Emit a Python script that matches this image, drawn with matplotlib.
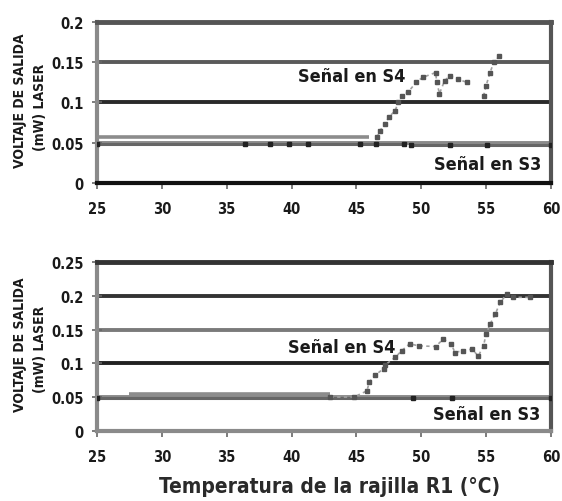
import numpy as np
import matplotlib
matplotlib.use("Agg")
import matplotlib.pyplot as plt
from matplotlib import font_manager
from matplotlib.ticker import FuncFormatter

# ---------------- data ----------------
x_ticks = [25, 30, 35, 40, 45, 50, 55, 60]
y_ticks_top = [0, 0.05, 0.1, 0.15, 0.2]
y_ticks_bot = [0, 0.05, 0.1, 0.15, 0.2, 0.25]

# top panel
top_s4_base_x = [25.0, 46.0]
top_s4_base_y = [0.057, 0.057]
top_s4_rise_x = [46.6, 46.8, 47.2, 47.5, 48.0, 48.2, 48.5, 49.0, 49.6, 50.1, 51.1,
                 51.2, 51.4, 51.8, 52.2, 52.8, 53.5, np.nan,
                 54.8, 55.0, 55.3, 55.6, 56.0]
top_s4_rise_y = [0.057, 0.065, 0.073, 0.082, 0.090, 0.100, 0.108, 0.113, 0.125, 0.131, 0.137,
                 0.125, 0.111, 0.127, 0.133, 0.129, 0.125, np.nan,
                 0.108, 0.121, 0.137, 0.150, 0.157]
top_s3_x = [25.0, 36.4, 38.3, 39.8, 41.3, 45.3, 46.5, 48.7, np.nan, 49.2, 52.2, 55.1, 60.0]
top_s3_y = [0.049, 0.049, 0.049, 0.049, 0.049, 0.049, 0.049, 0.049, np.nan, 0.048, 0.048, 0.048, 0.048]

# bottom panel
bot_s4_base_x = [27.5, 43.0]
bot_s4_base_y = [0.054, 0.054]
bot_s4_rise_x = [43.0, 44.8, 45.8, 46.0, 46.4, 47.1, 47.2, 48.0, 48.5, 49.1, 49.8, 51.1,
                 51.7, 52.3, 52.6, 53.2, 53.9, 54.4, 54.8, 55.0, 55.3, 55.7, 56.1,
                 56.6, 57.1, 58.4]
bot_s4_rise_y = [0.050, 0.050, 0.059, 0.072, 0.082, 0.092, 0.0975, 0.109, 0.119, 0.129, 0.126, 0.125,
                 0.136, 0.129, 0.116, 0.119, 0.121, 0.111, 0.126, 0.144, 0.158, 0.173, 0.191,
                 0.203, 0.198, 0.198]
bot_s3_x = [25.0, 49.4, 52.4, 60.0]
bot_s3_y = [0.049, 0.049, 0.049, 0.049]

label_s4 = "Señal en S4"
label_s3 = "Señal en S3"
ylabel_1 = "VOLTAJE DE SALIDA"
ylabel_2 = "(mW) LASER"
xlabel = "Temperatura de la rajilla R1 (°C)"

# ---------------- fonts ----------------
def has_font(name):
    try:
        font_manager.findfont(font_manager.FontProperties(family=name), fallback_to_default=False)
        return True
    except Exception:
        return False

if has_font("Liberation Sans Narrow"):
    FAM = "Liberation Sans Narrow"
    STRETCH = "normal"
else:
    FAM = "DejaVu Sans"
    STRETCH = "condensed"

TXT = "#1a1a1a"

fig = plt.figure(figsize=(5.62, 5.02), dpi=100)
fig.patch.set_facecolor("white")

ax_top = fig.add_axes([0.1726, 0.6329, 0.8078, 0.3219])
ax_bot = fig.add_axes([0.1726, 0.1400, 0.8078, 0.3355])

def style_axes(ax, yticks, grid_colors, spine_cols):
    ax.set_xlim(25, 60)
    ax.set_ylim(yticks[0], yticks[-1])
    ax.set_xticks(x_ticks)
    ax.set_yticks(yticks)
    ax.yaxis.set_major_formatter(FuncFormatter(lambda v, p: "%g" % round(v, 3)))
    for v, c in zip(yticks[1:-1], grid_colors):
        ax.axhline(v, color=c, lw=2.8, zorder=1)
    for side, (c, w) in spine_cols.items():
        ax.spines[side].set_color(c)
        ax.spines[side].set_linewidth(w)
    ax.tick_params(axis="x", direction="out", length=4, width=1.2, color="#666", pad=9)
    ax.tick_params(axis="y", direction="inout", length=7, width=1.2, color="#666", pad=6)
    for lab in ax.get_xticklabels() + ax.get_yticklabels():
        lab.set_fontfamily(FAM)
        lab.set_fontstretch(STRETCH)
        lab.set_fontweight("bold")
        lab.set_fontsize(10.5)
        lab.set_color(TXT)

style_axes(ax_top, y_ticks_top, ["#8a8a8a", "#2a2a2a", "#5a5a5a"],
           {"top": ("#555555", 3.5), "bottom": ("#111111", 3.0),
            "left": ("#8a8a8a", 3.0), "right": ("#555555", 3.0)})
style_axes(ax_bot, y_ticks_bot, ["#8a8a8a", "#222222", "#7a7a7a", "#333333"],
           {"top": ("#333333", 3.5), "bottom": ("#8a8a8a", 3.0),
            "left": ("#8a8a8a", 3.0), "right": ("#555555", 3.0)})

# data lines
for ax, bx, by, rx, ry, sx, sy in [
        (ax_top, top_s4_base_x, top_s4_base_y, top_s4_rise_x, top_s4_rise_y, top_s3_x, top_s3_y),
        (ax_bot, bot_s4_base_x, bot_s4_base_y, bot_s4_rise_x, bot_s4_rise_y, bot_s3_x, bot_s3_y)]:
    ax.plot(sx, sy, color="#666666", lw=2.2, marker="s", ms=2.2, mfc="#222", mec="#222", zorder=3)
    ax.plot(bx, by, color="#8c8c8c", lw=2.6, solid_capstyle="butt", zorder=3)
    ax.plot(rx, ry, color="#a0a0a0", lw=1.2, ls=(0, (2, 2)), marker="s", ms=2.2,
            mfc="#555", mec="#555", zorder=4)

# annotations
txt_kw = dict(family=FAM, fontstretch=STRETCH, fontweight="bold", fontsize=13,
              color=TXT, ha="center", va="center", zorder=5)
ax_top.text(44.6, 0.133, label_s4, **txt_kw)
ax_top.text(55.1, 0.024, label_s3, **txt_kw)
ax_bot.text(43.9, 0.124, label_s4, **txt_kw)
ax_bot.text(55.0, 0.025, label_s3, **txt_kw)

# y labels
yl_kw = dict(family=FAM, fontstretch=STRETCH, fontweight="bold", fontsize=10,
             color=TXT, ha="center", va="center", rotation=90)
fig.text(20 / 562, 0.800, ylabel_1, **yl_kw)
fig.text(40 / 562, 0.785, ylabel_2, **yl_kw)
fig.text(20 / 562, 0.3127, ylabel_1, **yl_kw)
fig.text(40 / 562, 0.3030, ylabel_2, **yl_kw)

# x label
fig.text(330 / 562, 1 - 487 / 502, xlabel, family=FAM, fontstretch=STRETCH,
         fontweight="bold", fontsize=15, color="#2a2a2a", ha="center", va="center")

fig.savefig("out.png", dpi=100, facecolor="white")
